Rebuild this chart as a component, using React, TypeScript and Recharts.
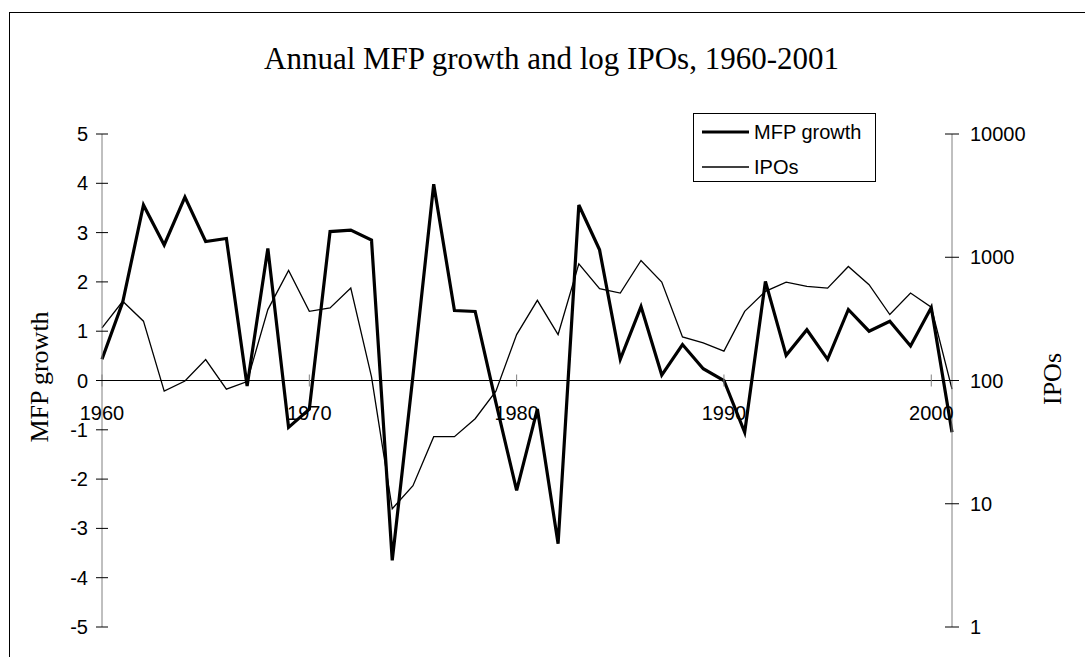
import { LineChart, Line, XAxis, YAxis, ReferenceLine, Legend } from "recharts";

const years = [
  1960, 1961, 1962, 1963, 1964, 1965, 1966, 1967, 1968, 1969,
  1970, 1971, 1972, 1973, 1974, 1975, 1976, 1977, 1978, 1979,
  1980, 1981, 1982, 1983, 1984, 1985, 1986, 1987, 1988, 1989,
  1990, 1991, 1992, 1993, 1994, 1995, 1996, 1997, 1998, 1999,
  2000, 2001,
];

const mfpGrowth = [
  0.43, 1.59, 3.56, 2.75, 3.72, 2.82, 2.88, -0.11, 2.68, -0.95,
  -0.58, 3.02, 3.05, 2.85, -3.65, 0.1, 3.98, 1.42, 1.4, -0.45,
  -2.23, -0.58, -3.31, 3.56, 2.65, 0.43, 1.5, 0.11, 0.73, 0.24,
  0.0, -1.05, 2.01, 0.51, 1.03, 0.43, 1.44, 1.0, 1.2, 0.7,
  1.48, -1.05,
];

const ipos = [
  267, 439, 303, 82, 99, 148, 85, 98, 376, 782,
  364, 388, 562, 107, 9.1, 14, 35, 35, 49, 82,
  236, 447, 236, 885, 556, 512, 942, 629, 226, 202,
  173, 364, 529, 629, 580, 562, 842, 599, 343, 512,
  393, 85,
];

const yearTicks = [1960, 1970, 1980, 1990, 2000];
const mfpTicks = [-5, -4, -3, -2, -1, 0, 1, 2, 3, 4, 5];
const ipoTicks = [1, 10, 100, 1000, 10000];

const W = 1085;
const H = 657;
const PLOT_LEFT = 102;
const PLOT_RIGHT = 952;
const PLOT_TOP = 134;
const PLOT_BOTTOM = 627;
const ZERO_Y = (PLOT_TOP + PLOT_BOTTOM) / 2;
const X_AXIS_H = 30;

const sans = '"Liberation Sans", Arial, sans-serif';
const serif = '"Liberation Serif", "Times New Roman", serif';

const lineWidths: Record<string, number> = { mfp: 3.2, ipo: 1.3 };
const legendOrder = ["mfp", "ipo"];

const data = years.map((year, i) => ({ year, mfp: mfpGrowth[i], ipo: ipos[i] }));

// year labels sit on the zero line, like Excel's "axis crosses at 0"
function YearTick({ x, payload }: any) {
  return (
    <g>
      <line x1={x} x2={x} y1={ZERO_Y - 6} y2={ZERO_Y + 6} stroke="#808080" />
      <text x={x} y={ZERO_Y + 39} textAnchor="middle" fontFamily={sans} fontSize={20} fill="#000">
        {payload.value}
      </text>
    </g>
  );
}

function MfpTick({ y, payload }: any) {
  return (
    <g>
      <line x1={PLOT_LEFT - 6} x2={PLOT_LEFT + 6} y1={y} y2={y} stroke="#000" />
      <text x={PLOT_LEFT - 14} y={y} dy={7} textAnchor="end" fontFamily={sans} fontSize={20} fill="#000">
        {payload.value}
      </text>
    </g>
  );
}

function IpoTick({ y, payload }: any) {
  return (
    <g>
      <line x1={PLOT_RIGHT - 7} x2={PLOT_RIGHT + 7} y1={y} y2={y} stroke="#000" />
      <text x={PLOT_RIGHT + 18} y={y} dy={7} textAnchor="start" fontFamily={sans} fontSize={20} fill="#000">
        {payload.value}
      </text>
    </g>
  );
}

function AxisTitle({ cx, cy, text }: { cx: number; cy: number; text: string }) {
  return (
    <text
      x={cx}
      y={cy}
      transform={`rotate(-90, ${cx}, ${cy})`}
      textAnchor="middle"
      dominantBaseline="central"
      fontFamily={serif}
      fontSize={26}
      fill="#000"
    >
      {text}
    </text>
  );
}

function LegendBox({ payload }: any) {
  const items = [...(payload || [])].sort(
    (a: any, b: any) => legendOrder.indexOf(a.dataKey) - legendOrder.indexOf(b.dataKey)
  );
  return (
    <div
      style={{
        position: "relative",
        width: 183,
        height: 69,
        border: "1px solid #000",
        boxSizing: "border-box",
        background: "#fff",
        fontFamily: sans,
        fontSize: 20,
      }}
    >
      {items.map((entry: any, i: number) => (
        <div key={entry.dataKey} style={{ position: "absolute", left: 8, top: 6 + i * 35, height: 24, display: "flex", alignItems: "center" }}>
          <svg width={48} height={6} style={{ display: "block" }}>
            <line x1={0} x2={47} y1={3} y2={3} stroke="#000" strokeWidth={lineWidths[entry.dataKey]} />
          </svg>
          <span style={{ marginLeft: 4, lineHeight: "24px", color: "#000" }}>{entry.value}</span>
        </div>
      ))}
    </div>
  );
}

export default function App() {
  return (
    <div style={{ position: "absolute", left: 0, top: 0, width: W, height: H, overflow: "hidden", background: "#fff" }}>
      <div style={{ position: "absolute", left: 9, top: 12, width: W + 40, height: H + 40, border: "1px solid #000" }} />
      <div
        style={{
          position: "absolute",
          left: 18,
          top: 43,
          width: 1067,
          textAlign: "center",
          fontFamily: serif,
          fontSize: 31,
          lineHeight: "31px",
          color: "#000",
          whiteSpace: "nowrap",
        }}
      >
        Annual MFP growth and log IPOs, 1960-2001
      </div>
      <div style={{ position: "absolute", left: 0, top: 0 }}>
        <LineChart
          width={W}
          height={H}
          data={data}
          margin={{ top: PLOT_TOP, right: W - PLOT_RIGHT - 60, bottom: H - PLOT_BOTTOM - X_AXIS_H, left: PLOT_LEFT - 60 }}
        >
          <XAxis
            dataKey="year"
            type="number"
            domain={[1960, 2001]}
            ticks={yearTicks}
            height={X_AXIS_H}
            axisLine={false}
            tickLine={false}
            tick={<YearTick />}
            interval={0}
          />
          <YAxis
            yAxisId="left"
            width={60}
            domain={[-5, 5]}
            ticks={mfpTicks}
            interval={0}
            axisLine={{ stroke: "#808080" }}
            tickLine={false}
            tick={<MfpTick />}
            label={<AxisTitle cx={39.5} cy={377} text="MFP growth" />}
          />
          <YAxis
            yAxisId="right"
            orientation="right"
            width={60}
            scale="log"
            domain={[1, 10000]}
            ticks={ipoTicks}
            interval={0}
            allowDataOverflow
            axisLine={{ stroke: "#808080" }}
            tickLine={false}
            tick={<IpoTick />}
            label={<AxisTitle cx={1052} cy={379} text="IPOs" />}
          />
          <ReferenceLine yAxisId="left" y={0} stroke="#000" strokeWidth={1} />
          <Legend
            layout="horizontal"
            align="center"
            verticalAlign="middle"
            wrapperStyle={{ left: 693, top: 113, width: 183, height: 69 }}
            content={<LegendBox />}
          />
          <Line
            yAxisId="right"
            dataKey="ipo"
            name="IPOs"
            type="linear"
            stroke="#000"
            strokeWidth={lineWidths.ipo}
            dot={false}
            activeDot={false}
            isAnimationActive={false}
          />
          <Line
            yAxisId="left"
            dataKey="mfp"
            name="MFP growth"
            type="linear"
            stroke="#000"
            strokeWidth={lineWidths.mfp}
            dot={false}
            activeDot={false}
            isAnimationActive={false}
          />
        </LineChart>
      </div>
    </div>
  );
}
